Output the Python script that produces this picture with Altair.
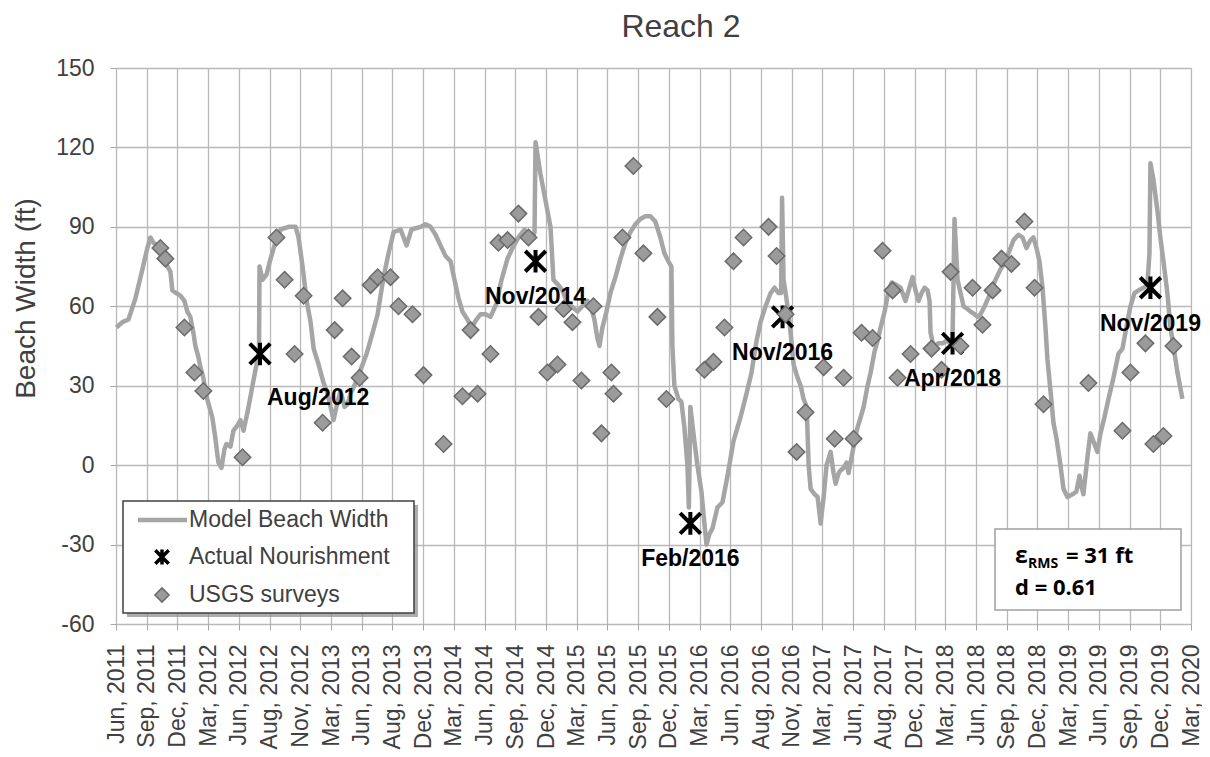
import datetime as dt
import altair as alt
import pandas as pd

FONT = "Liberation Sans"
UTC = dt.timezone.utc

# ---------------- data ----------------
chart_title = "Reach 2"
tick_labels = [
    "Jun, 2011", "Sep, 2011", "Dec, 2011", "Mar, 2012", "Jun, 2012", "Aug, 2012",
    "Nov, 2012", "Mar, 2013", "Jun, 2013", "Aug, 2013", "Dec, 2013", "Mar, 2014",
    "Jun, 2014", "Sep, 2014", "Dec, 2014", "Mar, 2015", "Jun, 2015", "Sep, 2015",
    "Dec, 2015", "Mar, 2016", "Jun, 2016", "Aug, 2016", "Nov, 2016", "Mar, 2017",
    "Jun, 2017", "Aug, 2017", "Dec, 2017", "Mar, 2018", "Jun, 2018", "Sep, 2018",
    "Dec, 2018", "Mar, 2019", "Jun, 2019", "Sep, 2019", "Dec, 2019", "Mar, 2020",
]
y_ticks = [-60, -30, 0, 30, 60, 90, 120, 150]

# Model beach width (decimal year, ft)
model_year = [
    2011.417, 2011.466, 2011.515, 2011.572, 2011.629, 2011.669, 2011.694, 2011.718, 2011.759, 2011.791,
    2011.824, 2011.857, 2011.873, 2011.905, 2011.938, 2011.971, 2011.995, 2012.019, 2012.044, 2012.060,
    2012.084, 2012.101, 2012.125, 2012.150, 2012.174, 2012.198, 2012.223, 2012.247, 2012.272, 2012.296,
    2012.312, 2012.345, 2012.369, 2012.402, 2012.426, 2012.451, 2012.483, 2012.508, 2012.532, 2012.557,
    2012.577, 2012.581, 2012.605, 2012.638, 2012.671, 2012.703, 2012.752, 2012.817, 2012.874, 2012.898,
    2012.931, 2012.964, 2012.996, 2013.021, 2013.061, 2013.102, 2013.135, 2013.159, 2013.183, 2013.216,
    2013.240, 2013.273, 2013.297, 2013.322, 2013.362, 2013.403, 2013.452, 2013.501, 2013.542, 2013.590,
    2013.631, 2013.672, 2013.729, 2013.778, 2013.818, 2013.892, 2013.932, 2013.973, 2014.014, 2014.054,
    2014.095, 2014.136, 2014.168, 2014.201, 2014.233, 2014.274, 2014.307, 2014.347, 2014.380, 2014.421,
    2014.461, 2014.510, 2014.551, 2014.600, 2014.640, 2014.689, 2014.738, 2014.771, 2014.803, 2014.820,
    2014.828, 2014.868, 2014.909, 2014.950, 2014.974, 2015.015, 2015.047, 2015.080, 2015.121, 2015.170,
    2015.210, 2015.251, 2015.284, 2015.308, 2015.332, 2015.349, 2015.373, 2015.406, 2015.438, 2015.479,
    2015.520, 2015.560, 2015.601, 2015.642, 2015.682, 2015.723, 2015.764, 2015.804, 2015.845, 2015.878,
    2015.910, 2015.935, 2015.943, 2015.959, 2015.992, 2016.016, 2016.041, 2016.065, 2016.077, 2016.089,
    2016.114, 2016.146, 2016.179, 2016.203, 2016.220, 2016.244, 2016.268, 2016.309, 2016.350, 2016.391,
    2016.439, 2016.496, 2016.545, 2016.586, 2016.627, 2016.659, 2016.700, 2016.741, 2016.773, 2016.806,
    2016.826, 2016.834, 2016.846, 2016.863, 2016.887, 2016.903, 2016.928, 2016.960, 2016.985, 2017.009,
    2017.034, 2017.050, 2017.066, 2017.099, 2017.123, 2017.148, 2017.172, 2017.196, 2017.229, 2017.253,
    2017.270, 2017.294, 2017.310, 2017.335, 2017.359, 2017.375, 2017.408, 2017.441, 2017.473, 2017.498,
    2017.530, 2017.555, 2017.587, 2017.612, 2017.636, 2017.669, 2017.701, 2017.726, 2017.766, 2017.799,
    2017.839, 2017.864, 2017.896, 2017.921, 2017.945, 2017.970, 2017.994, 2018.019, 2018.035, 2018.043,
    2018.067, 2018.108, 2018.141, 2018.173, 2018.206, 2018.222, 2018.238, 2018.263, 2018.287, 2018.312,
    2018.344, 2018.369, 2018.401, 2018.426, 2018.450, 2018.483, 2018.531, 2018.572, 2018.613, 2018.653,
    2018.694, 2018.719, 2018.759, 2018.792, 2018.824, 2018.857, 2018.881, 2018.906, 2018.930, 2018.955,
    2018.979, 2018.995, 2019.020, 2019.044, 2019.069, 2019.101, 2019.126, 2019.158, 2019.199, 2019.231,
    2019.256, 2019.272, 2019.288, 2019.321, 2019.345, 2019.378, 2019.402, 2019.427, 2019.459, 2019.492,
    2019.533, 2019.573, 2019.606, 2019.638, 2019.671, 2019.704, 2019.736, 2019.777, 2019.809, 2019.826,
    2019.834, 2019.858, 2019.891, 2019.915, 2019.940, 2019.972, 2019.997, 2020.021, 2020.054, 2020.094,
]
model_width = [
    52, 54, 55, 63, 74, 82, 86, 84, 83, 80,
    76, 73, 66, 65, 64, 62, 58, 56, 50, 45,
    41, 37, 33, 26, 22, 18, 10, 1, -1, 6,
    8, 7, 13, 15, 17, 13, 20, 26, 32, 38,
    43, 75, 70, 72, 78, 83, 89, 90, 90, 86,
    75, 62, 54, 44, 38, 31, 27, 22, 17, 24,
    28, 22, 23, 27, 31, 36, 42, 50, 57, 71,
    80, 88, 89, 83, 89, 90, 91, 90, 87, 83,
    79, 77, 70, 63, 58, 55, 52, 55, 57, 57,
    56, 61, 70, 78, 82, 86, 89, 84, 86, 88,
    122, 110, 100, 90, 70, 68, 66, 62, 60, 58,
    60, 62, 59, 55, 48, 45, 52, 58, 65, 71,
    78, 84, 88, 91, 93, 94, 94, 92, 86, 80,
    77, 75, 45, 30, 25, 24, 14, 0, -16, 22,
    12, 0, -10, -22, -30, -26, -24, -16, -14, -4,
    9, 18, 27, 35, 47, 54, 60, 65, 67, 65,
    65, 101, 70, 65, 57, 50, 38, 33, 30, 25,
    22, 0, -9, -11, -12, -22, -12, 0, 5, -3,
    -7, -3, -2, -1, 1, -3, 5, 13, 18, 22,
    30, 35, 43, 47, 52, 58, 66, 69, 68, 67,
    62, 66, 71, 66, 62, 65, 67, 66, 62, 50,
    45, 46, 46, 47, 46, 47, 93, 70, 65, 60,
    59, 58, 57, 56, 57, 60, 65, 70, 74, 77,
    82, 85, 87, 86, 82, 85, 86, 82, 77, 67,
    52, 40, 28, 16, 10, 0, -9, -12, -11, -10,
    -4, -8, -11, 3, 12, 8, 5, 12, 18, 25,
    33, 42, 44, 52, 60, 65, 66, 67, 68, 80,
    114, 108, 96, 86, 77, 65, 52, 45, 35, 25,
]

# USGS surveys (decimal year, ft)
survey_year = [
    2011.775, 2011.816, 2011.971, 2012.052, 2012.125, 2012.443, 2012.719, 2012.785, 2012.866, 2012.939,
    2013.094, 2013.192, 2013.257, 2013.330, 2013.395, 2013.485, 2013.542, 2013.647, 2013.712, 2013.826,
    2013.916, 2014.079, 2014.233, 2014.299, 2014.356, 2014.461, 2014.526, 2014.600, 2014.689, 2014.771,
    2014.852, 2014.925, 2015.007, 2015.056, 2015.129, 2015.202, 2015.300, 2015.365, 2015.446, 2015.463,
    2015.536, 2015.625, 2015.707, 2015.821, 2015.894, 2016.203, 2016.277, 2016.366, 2016.439, 2016.521,
    2016.724, 2016.789, 2016.863, 2016.952, 2017.025, 2017.172, 2017.262, 2017.335, 2017.416, 2017.481,
    2017.571, 2017.652, 2017.734, 2017.774, 2017.880, 2018.051, 2018.133, 2018.206, 2018.287, 2018.385,
    2018.466, 2018.548, 2018.621, 2018.702, 2018.808, 2018.890, 2018.963, 2019.329, 2019.606, 2019.671,
    2019.793, 2019.858, 2019.940, 2020.021,
]
survey_width = [
    82, 78, 52, 35, 28, 3, 86, 70, 42, 64,
    16, 51, 63, 41, 33, 68, 71, 71, 60, 57,
    34, 8, 26, 51, 27, 42, 84, 85, 95, 86,
    56, 35, 38, 59, 54, 32, 60, 12, 35, 27,
    86, 113, 80, 56, 25, 36, 39, 52, 77, 86,
    90, 79, 57, 5, 20, 37, 10, 33, 10, 50,
    48, 81, 66, 33, 42, 44, 36, 73, 45, 67,
    53, 66, 78, 76, 92, 67, 23, 31, 13, 35,
    46, 8, 11, 45,
]

# Actual nourishments
nourish_year = [2012.585, 2014.828, 2016.089, 2016.838, 2018.222, 2019.834]
nourish_width = [42, 77, -22, 56, 46, 67]
nourish_label = ["Aug/2012", "Nov/2014", "Feb/2016", "Nov/2016", "Apr/2018", "Nov/2019"]

legend_labels = ["Model Beach Width", "Actual Nourishment", "USGS surveys"]
stats_main = ["\u03b5", "RMS", "= 31 ft", "d = 0.61"]

assert len(model_year) == len(model_width)
assert len(survey_year) == len(survey_width)


def to_ms(y):
    yr = int(y)
    a = dt.datetime(yr, 1, 1, tzinfo=UTC)
    b = dt.datetime(yr + 1, 1, 1, tzinfo=UTC)
    return (a + (b - a) * (y - yr)).timestamp() * 1000.0


T0 = dt.datetime(2011, 6, 1, tzinfo=UTC).timestamp() * 1000.0
T1 = dt.datetime(2020, 3, 1, tzinfo=UTC).timestamp() * 1000.0
STEP = (T1 - T0) / (len(tick_labels) - 1)
tick_values = [T0 + i * STEP for i in range(len(tick_labels))]
label_expr = "[" + ",".join("'%s'" % s for s in tick_labels) + "]" + \
    "[round((toNumber(datum.value) - %r) / %r)]" % (T0, STEP)

model_df = pd.DataFrame({"t": [to_ms(v) for v in model_year], "w": model_width})
survey_df = pd.DataFrame({"t": [to_ms(v) for v in survey_year], "w": survey_width})
nour_df = pd.DataFrame({"t": [to_ms(v) for v in nourish_year], "w": nourish_width,
                        "label": nourish_label})
one = pd.DataFrame({"k": [0]})

GRID = "#b9b9b9"
TXT = "#404040"
CROSS = "M-1,-1L1,1M1,-1L-1,1M0,-1.1L0,1.1"

x_enc = alt.X(
    "t:T",
    scale=alt.Scale(type="utc", domain=[T0, T1], nice=False),
    axis=alt.Axis(values=tick_values, labelExpr=label_expr, labelAngle=-90,
                  labelFont=FONT, labelFontSize=23, labelColor=TXT,
                  labelPadding=14, labelOverlap=False, labelFlush=False,
                  labelBound=False, tickSize=6, tickColor="#a6a6a6",
                  grid=True, gridColor=GRID, gridWidth=1.3, domain=False,
                  title=None),
)
y_enc = alt.Y(
    "w:Q",
    scale=alt.Scale(domain=[-60, 150], nice=False, zero=False),
    axis=alt.Axis(values=y_ticks, labelExpr="toString(datum.value)",
                  labelFont=FONT, labelFontSize=23, labelColor=TXT,
                  labelPadding=16, tickSize=6, tickColor="#a6a6a6",
                  grid=True, gridColor=GRID, gridWidth=1.3, domain=False,
                  title="Beach Width (ft)", titleFont=FONT, titleFontSize=28,
                  titleFontWeight="normal", titleColor=TXT, titleX=-90, titleY=230,
                  titleAlign="center", titleBaseline="middle"),
)

line = alt.Chart(model_df).mark_line(color="#a5a5a5", strokeWidth=4.5,
                                      strokeJoin="round").encode(x=x_enc, y=y_enc)
crosses = alt.Chart(nour_df).mark_point(shape=CROSS, size=420, color="black",
                                         strokeWidth=4, opacity=1).encode(x=x_enc, y=y_enc)
diamonds = alt.Chart(survey_df).mark_point(shape="diamond", size=270, filled=True,
                                            color="#9b9b9b", fill="#9b9b9b",
                                            stroke="#6a6a6a", strokeWidth=1.5,
                                            opacity=1).encode(x=x_enc, y=y_enc)
labels_c = alt.Chart(nour_df).transform_filter(alt.datum.label != "Aug/2012").mark_text(
    font=FONT, fontSize=23, fontWeight="bold", color="black", align="center",
    baseline="middle", dy=36).encode(x=x_enc, y=y_enc, text="label:N")
labels_l = alt.Chart(nour_df).transform_filter(alt.datum.label == "Aug/2012").mark_text(
    font=FONT, fontSize=23, fontWeight="bold", color="black", align="left",
    baseline="middle", dx=7, dy=44).encode(x=x_enc, y=y_enc, text="label:N")

# chart title (drawn as text above the plot area)
title_txt = alt.Chart(one).mark_text(font=FONT, fontSize=32, color=TXT, align="center",
                                     baseline="alphabetic").encode(
    x=alt.value(565), y=alt.value(-31), text=alt.value(chart_title))

# legend box (pixel layout)
leg_shadow = alt.Chart(one).mark_rect(fill="#8a8a8a", opacity=0.7).encode(
    x=alt.value(11), x2=alt.value(302), y=alt.value(437), y2=alt.value(549))
leg_box = alt.Chart(one).mark_rect(fill="white", stroke="#404040", strokeWidth=1.5).encode(
    x=alt.value(7), x2=alt.value(298), y=alt.value(433), y2=alt.value(545))
leg_line = alt.Chart(one).mark_rule(color="#a5a5a5", strokeWidth=4.5).encode(
    x=alt.value(22), x2=alt.value(71), y=alt.value(452))
leg_cross = alt.Chart(one).mark_point(shape=CROSS, size=180, color="black",
                                       strokeWidth=3.5, opacity=1).encode(
    x=alt.value(46), y=alt.value(489))
leg_diam = alt.Chart(one).mark_point(shape="diamond", size=200, filled=True,
                                      color="#9b9b9b", fill="#9b9b9b", stroke="#6a6a6a",
                                      strokeWidth=1.5, opacity=1).encode(
    x=alt.value(46), y=alt.value(527))
leg_texts = [
    alt.Chart(one).mark_text(font=FONT, fontSize=23, color=TXT, align="left",
                             baseline="middle").encode(
        x=alt.value(73), y=alt.value(yy), text=alt.value(lab))
    for lab, yy in zip(legend_labels, [452, 489, 527])
]

# statistics box
st_box = alt.Chart(one).mark_rect(fill="white", stroke="#a0a0a0", strokeWidth=1.5).encode(
    x=alt.value(879), x2=alt.value(1065), y=alt.value(461), y2=alt.value(542))
SFONT = "Open Sans"
st_eps = alt.Chart(one).mark_text(font=SFONT, fontSize=23, fontWeight="bold", color="black",
                                  align="left", baseline="alphabetic").encode(
    x=alt.value(899), y=alt.value(495), text=alt.value(stats_main[0]))
st_sub = alt.Chart(one).mark_text(font=SFONT, fontSize=14, fontWeight="bold", color="black",
                                  align="left", baseline="alphabetic").encode(
    x=alt.value(912), y=alt.value(500), text=alt.value(stats_main[1]))
st_val = alt.Chart(one).mark_text(font=SFONT, fontSize=22, fontWeight="bold", color="black",
                                  align="left", baseline="alphabetic").encode(
    x=alt.value(950), y=alt.value(495), text=alt.value(stats_main[2]))
st_d = alt.Chart(one).mark_text(font=SFONT, fontSize=22, fontWeight="bold", color="black",
                                align="left", baseline="alphabetic").encode(
    x=alt.value(899), y=alt.value(527), text=alt.value(stats_main[3]))

chart = alt.layer(
    line, crosses, diamonds, labels_c, labels_l, title_txt,
    leg_shadow, leg_box, leg_line, leg_cross, leg_diam, *leg_texts,
    st_box, st_eps, st_sub, st_val, st_d,
).properties(
    width=1075, height=556,
    autosize=alt.AutoSizeParams(type="none"),
    padding={"left": 108, "top": 60, "right": 11, "bottom": 132},
).configure_view(stroke="#a6a6a6", strokeWidth=1.5).configure(background="white")

chart.save("out.html", embed_options={"renderer": "svg", "actions": False})
